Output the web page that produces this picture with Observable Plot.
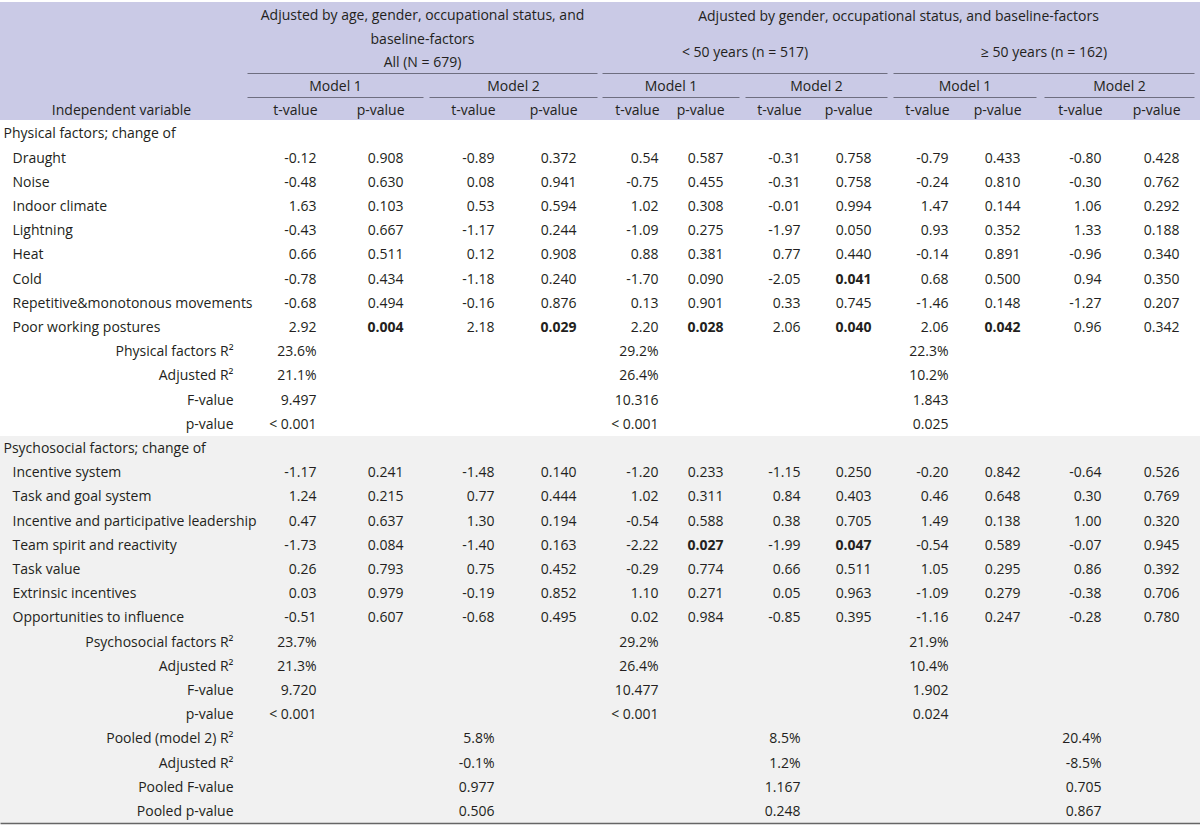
<!DOCTYPE html>
<html>
<head>
<meta charset="utf-8">
<script src="https://cdn.jsdelivr.net/npm/d3@7"></script>
<script src="https://cdn.jsdelivr.net/npm/@observablehq/plot@0.6"></script>
<style>
  html, body { margin: 0; padding: 0; background: #ffffff; }
  #chart svg { display: block; }
</style>
</head>
<body>
<div id="chart"></div>
<script>
// ---------------- DATA ----------------
const groupTitles = ["Adjusted by age, gender, occupational status, and", "baseline-factors", "All (N = 679)"];
const groupTitleRight = "Adjusted by gender, occupational status, and baseline-factors";
const subgroupTitles = ["< 50 years (n = 517)", "\u2265 50 years (n = 162)"];
const modelNames = ["Model 1", "Model 2", "Model 1", "Model 2", "Model 1", "Model 2"];
const statNames = ["t-value", "p-value"];
const firstColumnTitle = "Independent variable";

const physicalTitle = "Physical factors; change of";
const physicalVars = ["Draught", "Noise", "Indoor climate", "Lightning", "Heat", "Cold",
  "Repetitive&monotonous movements", "Poor working postures"];
const physicalT = [
  [-0.12, -0.89, 0.54, -0.31, -0.79, -0.80],
  [-0.48, 0.08, -0.75, -0.31, -0.24, -0.30],
  [1.63, 0.53, 1.02, -0.01, 1.47, 1.06],
  [-0.43, -1.17, -1.09, -1.97, 0.93, 1.33],
  [0.66, 0.12, 0.88, 0.77, -0.14, -0.96],
  [-0.78, -1.18, -1.70, -2.05, 0.68, 0.94],
  [-0.68, -0.16, 0.13, 0.33, -1.46, -1.27],
  [2.92, 2.18, 2.20, 2.06, 2.06, 0.96]
];
const physicalP = [
  [0.908, 0.372, 0.587, 0.758, 0.433, 0.428],
  [0.630, 0.941, 0.455, 0.758, 0.810, 0.762],
  [0.103, 0.594, 0.308, 0.994, 0.144, 0.292],
  [0.667, 0.244, 0.275, 0.050, 0.352, 0.188],
  [0.511, 0.908, 0.381, 0.440, 0.891, 0.340],
  [0.434, 0.240, 0.090, 0.041, 0.500, 0.350],
  [0.494, 0.876, 0.901, 0.745, 0.148, 0.207],
  [0.004, 0.029, 0.028, 0.040, 0.042, 0.342]
];
const physicalSummaryLabels = ["Physical factors R\u00b2", "Adjusted R\u00b2", "F-value", "p-value"];
const physicalSummary = [
  ["23.6%", "29.2%", "22.3%"],
  ["21.1%", "26.4%", "10.2%"],
  ["9.497", "10.316", "1.843"],
  ["< 0.001", "< 0.001", "0.025"]
];

const psychosocialTitle = "Psychosocial factors; change of";
const psychosocialVars = ["Incentive system", "Task and goal system", "Incentive and participative leadership",
  "Team spirit and reactivity", "Task value", "Extrinsic incentives", "Opportunities to influence"];
const psychosocialT = [
  [-1.17, -1.48, -1.20, -1.15, -0.20, -0.64],
  [1.24, 0.77, 1.02, 0.84, 0.46, 0.30],
  [0.47, 1.30, -0.54, 0.38, 1.49, 1.00],
  [-1.73, -1.40, -2.22, -1.99, -0.54, -0.07],
  [0.26, 0.75, -0.29, 0.66, 1.05, 0.86],
  [0.03, -0.19, 1.10, 0.05, -1.09, -0.38],
  [-0.51, -0.68, 0.02, -0.85, -1.16, -0.28]
];
const psychosocialP = [
  [0.241, 0.140, 0.233, 0.250, 0.842, 0.526],
  [0.215, 0.444, 0.311, 0.403, 0.648, 0.769],
  [0.637, 0.194, 0.588, 0.705, 0.138, 0.320],
  [0.084, 0.163, 0.027, 0.047, 0.589, 0.945],
  [0.793, 0.452, 0.774, 0.511, 0.295, 0.392],
  [0.979, 0.852, 0.271, 0.963, 0.279, 0.706],
  [0.607, 0.495, 0.984, 0.395, 0.247, 0.780]
];
const psychosocialSummaryLabels = ["Psychosocial factors R\u00b2", "Adjusted R\u00b2", "F-value", "p-value"];
const psychosocialSummary = [
  ["23.7%", "29.2%", "21.9%"],
  ["21.3%", "26.4%", "10.4%"],
  ["9.720", "10.477", "1.902"],
  ["< 0.001", "< 0.001", "0.024"]
];
const pooledSummaryLabels = ["Pooled (model 2) R\u00b2", "Adjusted R\u00b2", "Pooled F-value", "Pooled p-value"];
const pooledSummary = [
  ["5.8%", "8.5%", "20.4%"],
  ["-0.1%", "1.2%", "-8.5%"],
  ["0.977", "1.167", "0.705"],
  ["0.506", "0.248", "0.867"]
];
const significance = 0.05;

// ---------------- LAYOUT ----------------
const W = 1200, H = 826;
const L = {
  tRight: [316, 494, 658, 800, 948, 1101],
  pRight: [403, 576, 723, 871, 1020, 1179],
  modelSpan: [[247, 423], [429, 597], [602, 739], [745, 887], [893, 1036], [1044, 1194]],
  groupSpan: [[247, 597], [602, 887], [893, 1194]],
  labelX: 12, sectionX: 3, summaryX: 233, firstColX: 121,
  rowY0: 133.5, rowH: 24.2,
  headerTop: 2, headerBottom: 120, greyTop: 436, bottomRule: 823,
  groupLineY: 73, modelTextY: 86, modelLineY: 97, statTextY: 110,
  leftTitleY: [15, 39, 62], rightTitleY: 16, subTitleY: 52
};
const rowY = i => L.rowY0 + L.rowH * i;

// ---------------- BUILD TABLE RECORDS ----------------
const texts = [];
const add = (x, y, text, anchor, bold = false) => texts.push({x, y, text, anchor, bold});

// header
groupTitles.forEach((t, i) => add((L.groupSpan[0][0] + L.groupSpan[0][1]) / 2, L.leftTitleY[i], t, "middle"));
add((L.groupSpan[1][0] + L.groupSpan[2][1]) / 2, L.rightTitleY, groupTitleRight, "middle");
subgroupTitles.forEach((t, i) => add((L.groupSpan[i + 1][0] + L.groupSpan[i + 1][1]) / 2, L.subTitleY, t, "middle"));
modelNames.forEach((m, i) => add((L.modelSpan[i][0] + L.modelSpan[i][1]) / 2, L.modelTextY, m, "middle"));
modelNames.forEach((m, i) => {
  add(L.tRight[i] + 1, L.statTextY, statNames[0], "end");
  add(L.pRight[i] + 1, L.statTextY, statNames[1], "end");
});
add(L.firstColX, L.statTextY, firstColumnTitle, "middle");

let r = 0;
function section(title, vars, T, P, summaryLabels, summary) {
  add(L.sectionX, rowY(r), title, "start"); r++;
  vars.forEach((v, i) => {
    add(L.labelX, rowY(r), v, "start");
    T[i].forEach((t, j) => add(L.tRight[j], rowY(r), t.toFixed(2), "end"));
    P[i].forEach((p, j) => add(L.pRight[j], rowY(r), p.toFixed(3), "end", p < significance));
    r++;
  });
  summaryLabels.forEach((s, i) => {
    add(L.summaryX, rowY(r), s, "end");
    summary[i].forEach((v, g) => add(L.tRight[g * 2], rowY(r), v, "end"));
    r++;
  });
}
section(physicalTitle, physicalVars, physicalT, physicalP, physicalSummaryLabels, physicalSummary);
section(psychosocialTitle, psychosocialVars, psychosocialT, psychosocialP, psychosocialSummaryLabels, psychosocialSummary);
pooledSummaryLabels.forEach((s, i) => {
  add(L.summaryX, rowY(r), s, "end");
  pooledSummary[i].forEach((v, g) => add(L.tRight[g * 2 + 1], rowY(r), v, "end"));
  r++;
});

const headerBand = [{x1: 0, x2: W, y1: L.headerTop, y2: L.headerBottom}];
const greyBand = [{x1: 0, x2: W, y1: L.greyTop, y2: L.bottomRule}];
const rules = [
  ...L.groupSpan.map(([a, b]) => ({x1: a, x2: b, y: L.groupLineY})),
  ...L.modelSpan.map(([a, b]) => ({x1: a, x2: b, y: L.modelLineY}))
];
const bottom = [{x1: 0, x2: W, y: L.bottomRule}];

const textOpts = anchor => ({x: "x", y: "y", text: "text", textAnchor: anchor, lineAnchor: "middle", fill: "#231f20"});

const chart = Plot.plot({
  width: W, height: H, margin: 0,
  x: {domain: [0, W], range: [0, W], axis: null},
  y: {domain: [0, H], range: [0, H], axis: null},
  style: {fontFamily: "'Open Sans', sans-serif", fontSize: "14px", background: "#ffffff", overflow: "visible"},
  marks: [
    Plot.rect(headerBand, {x1: "x1", x2: "x2", y1: "y1", y2: "y2", fill: "#cacae6"}),
    Plot.rect(greyBand, {x1: "x1", x2: "x2", y1: "y1", y2: "y2", fill: "#f1f1f1"}),
    Plot.link(rules, {x1: "x1", x2: "x2", y1: "y", y2: "y", stroke: "#6e6e80", strokeWidth: 1}),
    Plot.link(bottom, {x1: "x1", x2: "x2", y1: "y", y2: "y", stroke: "#666666", strokeWidth: 1.5}),
    Plot.text(texts.filter(d => d.anchor === "start"), textOpts("start")),
    Plot.text(texts.filter(d => d.anchor === "middle"), textOpts("middle")),
    Plot.text(texts.filter(d => d.anchor === "end" && !d.bold), textOpts("end")),
    Plot.text(texts.filter(d => d.anchor === "end" && d.bold), {...textOpts("end"), fontWeight: "bold"})
  ]
});
document.getElementById("chart").appendChild(chart);
</script>
</body>
</html>
